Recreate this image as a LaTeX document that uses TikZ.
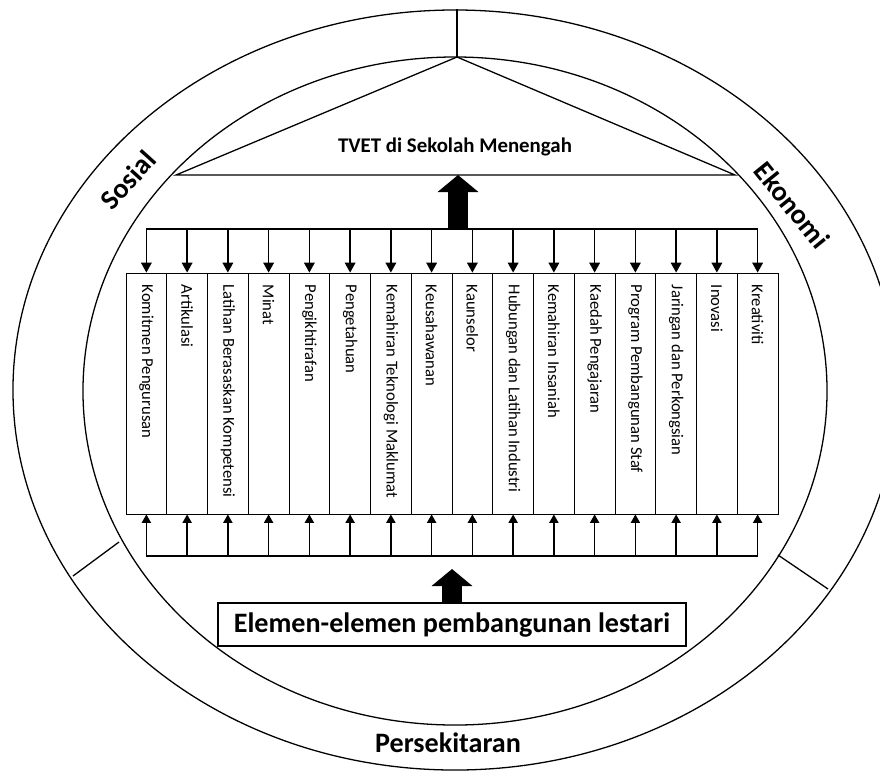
\documentclass[tikz,border=0pt]{standalone}
\usepackage{fontspec}
\setmainfont{Carlito}
\usetikzlibrary{arrows.meta}

\begin{document}
\begin{tikzpicture}[x=0.03cm,y=0.03cm,
  ring/.style={line width=1.1pt},
  col/.style={draw,line width=0.7pt,minimum width=1.2225cm,minimum height=7.23cm,inner sep=0pt},
  lbl/.style={rotate=-90,anchor=west,inner sep=0pt,font=\fontsize{14.2}{17}\selectfont},
  big/.style={font=\fontsize{24}{28}\selectfont\bfseries},
  arr/.style={-{Triangle[width=0.32cm,length=0.3cm]},line width=1.3pt},
  arrb/.style={-{Triangle[width=0.27cm,length=0.25cm]},line width=1.3pt},
  bigarr/.style={-{Triangle[width=1.2cm,length=0.51cm]},line width=0.6cm}]
\useasboundingbox (0,0) rectangle (880,-771);
\draw[ring] (455,-390) ellipse [x radius=13.26cm,y radius=11.4cm];
\draw[ring] (455,-391) ellipse [x radius=11.16cm,y radius=10.02cm];
\draw[ring] (457,-57) -- (457,-9);
\draw[ring] (119,-542) -- (73,-576);
\draw[ring] (778,-555) -- (828,-589);
\coordinate (apex) at (457,-57);
\coordinate (roofL) at (176,-175);
\coordinate (roofR) at (735,-175);
\draw[ring] (roofL) -- (apex) -- (roofR) -- cycle;
\node[font=\fontsize{17.8}{21}\selectfont\bfseries] (tvet) at (455,-147) {TVET di Sekolah Menengah};
\node[big,rotate=48] (sos) at (128,-180) {Sosial};
\node[big,rotate=-51] (eko) at (792,-205) {Ekonomi};
\node[big] (pers) at (448,-743) {Persekitaran};
\coordinate (top) at (458,-229);
\coordinate (bot) at (455,-556);
\foreach \i/\t in {1/Komitmen Pengurusan,2/Artikulasi,3/Latihan Berasaskan Kompetensi,
    4/Minat,5/Pengikhtirafan,6/Pengetahuan,7/Kemahiran Teknologi Maklumat,
    8/Keusahawanan,9/Kaunselor,10/Hubungan dan Latihan Industri,11/Kemahiran Insaniah,
    12/Kaedah Pengajaran,13/Program Pembangunan Staf,14/Jaringan dan Perkongsian,
    15/Inovasi,16/Kreativiti}{
  \node[col] (c\i) at ({126+40.75*(\i-0.5)},-393.5) {};
  \node[lbl] at ([yshift=-0.36cm]c\i.north) {\t};
  \draw[arr] (c\i.north |- top) -- (c\i.north);
  \draw[arrb] (c\i.south |- bot) -- (c\i.south);
}
\draw[line width=1.3pt] (c1.north |- top) -- (c16.north |- top);
\draw[line width=1.3pt] (c1.south |- bot) -- (c16.south |- bot);
\draw[bigarr] (top) -- (top |- roofL);
\node[draw,line width=1.2pt,big,minimum width=14.04cm,minimum height=1.29cm] (el) at (452,-624.5) {Elemen-elemen pembangunan lestari};
\draw[bigarr,shorten >=0.39cm] (el.north) -- (el.north |- bot);
\end{tikzpicture}
\end{document}
